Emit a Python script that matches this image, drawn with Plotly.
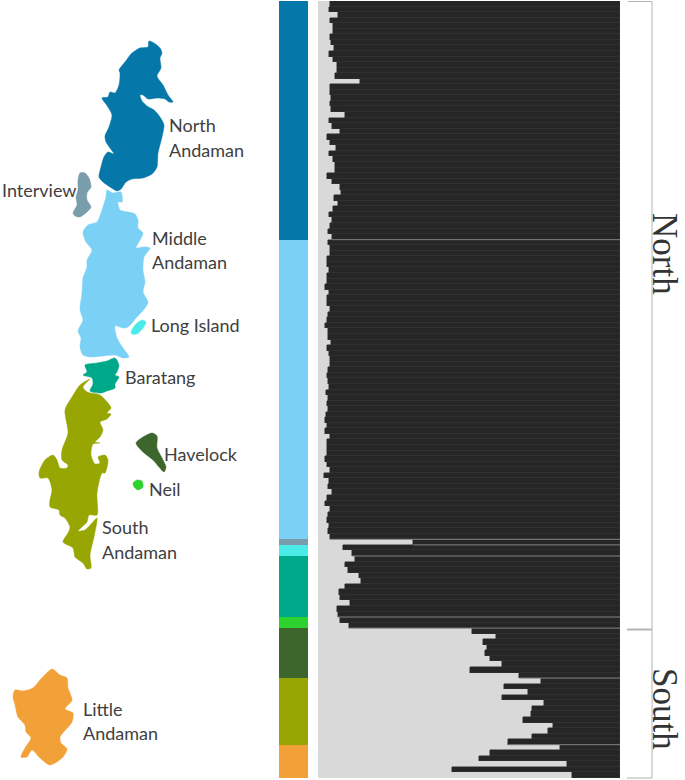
import plotly.graph_objects as go

# ---------- data ----------
group_names = ["North Andaman", "Middle Andaman", "Interview", "Long Island", "Baratang",
               "Neil", "Havelock", "South Andaman", "Little Andaman"]
group_sizes = [43, 54, 1, 2, 11, 2, 9, 12, 6]
group_colors = ["#0577a8", "#7bd0f5", "#7a9dac", "#4bebe8", "#00a88a",
                "#2dd22f", "#3c662b", "#97a603", "#f2a038"]

# share of the light cluster per individual, percent, top to bottom
north_andaman = [3.9, 3.6, 6.7, 4.0, 5.0, 4.8, 3.9, 4.3, 5.4, 3.5, 5.1, 6.4, 6.4, 5.5, 13.9,
                 3.9, 3.9, 4.4, 4.0, 4.2, 9.0, 3.6, 4.5, 7.2, 3.1, 3.9, 5.9, 3.5, 5.1, 5.5,
                 5.6, 2.9, 4.5, 7.2, 7.7, 5.4, 6.6, 4.9, 3.8, 4.5, 4.0, 3.2, 4.5]
middle_andaman = [3.4, 4.0, 4.0, 3.0, 3.1, 3.8, 3.1, 3.1, 2.2, 3.6, 2.9, 3.0, 3.9, 3.3, 3.0,
                  2.2, 3.3, 3.3, 4.2, 3.0, 3.8, 3.9, 3.9, 3.4, 3.0, 3.4, 3.6, 2.5, 3.3, 2.9,
                  3.3, 2.8, 2.4, 3.0, 2.4, 3.9, 3.1, 3.0, 3.0, 2.3, 2.9, 3.9, 2.0, 3.5, 3.3,
                  4.5, 3.1, 2.4, 4.1, 3.2, 3.1, 3.8, 3.3, 3.9]
interview = [31.5]
long_island = [8.2, 11.3]
baratang = [12.4, 9.0, 9.8, 13.6, 14.4, 9.1, 7.1, 7.2, 10.5, 6.4, 6.5]
neil = [7.4, 10.1]
havelock = [51.0, 58.8, 54.7, 56.0, 55.4, 57.0, 61.0, 50.4, 66.7]
south_andaman = [73.7, 61.5, 69.4, 60.9, 74.7, 70.7, 70.6, 67.8, 77.9, 76.2, 70.7, 63.0]
little_andaman = [80.1, 56.9, 53.3, 82.3, 44.4, 84.0]

# island outlines
outline_north = [(149,41),(154,43),(160,48),(162,53),(160,58),(161,68),(157,76),(163,85),(168,95),
                 (173,102),(169,102),(165,99),(157,98),(148,99),(143,95),(140,95),(142,101),(147,106),
                 (154,110),(160,117),(164,125),(162,137),(158,153),(157,167),(152,174),(143,178),
                 (132,179),(126,182),(121,189),(117,191),(110,187),(103,182),(99,177),(101,167),
                 (104,157),(108,152),(114,154),(110,148),(106,142),(105,136),(109,127),(112,115),
                 (108,107),(102,98),(108,97),(110,92),(115,93),(119,85),(120,73),(119,70),(125,62),
                 (132,53),(140,48),(148,47)]
outline_interview = [(80,173),(85,173),(89,178),(91,187),(87,193),(87,200),(91,207),(87,212),
                     (80,217),(75,216),(73,213),(77,205),(76,197),(78,190),(78,180)]
outline_middle = [(107,190),(113,193),(121,192),(122,202),(118,202),(120,210),(128,212),(135,214),
                  (138,220),(138,228),(143,233),(140,240),(136,248),(143,247),(150,248),(144,257),
                  (143,270),(145,282),(143,292),(148,302),(145,308),(137,317),(128,327),(123,328),
                  (115,326),(117,338),(123,348),(129,357),(123,358),(115,355),(103,356),(90,357),
                  (83,355),(80,347),(81,338),(78,331),(83,320),(80,310),(82,293),(83,278),(87,267),
                  (87,260),(92,250),(86,242),(83,232),(88,225),(97,222),(102,210),(106,197)]
outline_long = [(131,332),(135,325),(142,320),(146,322),(143,328),(137,334),(132,334)]
outline_baratang = [(85,365),(97,363),(107,361),(115,358),(119,365),(117,372),(115,375),(119,377),
                    (115,384),(115,388),(107,391),(101,393),(90,391),(93,384),(92,378),(83,375),(87,372)]
outline_south = [(90,379),(83,387),(87,392),(100,395),(108,403),(111,408),(107,413),(111,414),
                 (107,419),(100,422),(103,430),(100,437),(95,442),(100,443),(93,444),(91,455),
                 (95,464),(100,463),(98,457),(105,455),(108,460),(105,473),(102,473),(97,493),
                 (97,515),(89,515),(87,522),(78,531),(85,530),(92,523),(97,518),(94,537),(90,555),
                 (91,568),(87,569),(83,563),(75,557),(73,548),(63,542),(68,533),(70,527),(65,518),
                 (60,515),(59,510),(50,507),(50,500),(52,490),(48,478),(40,478),(39,472),(45,460),
                 (53,455),(57,460),(60,468),(67,468),(68,465),(62,460),(62,450),(68,433),(65,410),
                 (72,397),(80,385)]
outline_havelock = [(136,443),(143,437),(152,433),(157,436),(157,448),(162,458),(166,467),(164,472),
                    (159,467),(153,460),(143,452)]
outline_neil = [(133,483),(137,480),(142,481),(143,487),(138,490),(134,487)]
outline_little = [(52,669),(60,675),(67,678),(68,688),(72,700),(65,709),(73,713),(72,722),(60,737),
                  (61,743),(67,749),(63,757),(50,765),(40,758),(32,750),(27,757),(21,757),(25,748),
                  (31,738),(26,732),(25,725),(18,717),(15,705),(13,697),(15,690),(23,691),(33,688),(40,680)]

label_texts = ["North", "Andaman", "Interview", "Middle", "Andaman", "Long Island", "Baratang",
               "Havelock", "Neil", "South", "Andaman", "Little", "Andaman"]
label_x = [167, 167, 0, 150, 150, 149, 123, 162, 147, 100, 100, 81, 81]
label_y = [125, 150, 190, 238, 262, 325, 377, 454, 489, 527, 552, 709, 733]

# ---------- derived ----------
W, H = 685, 780
light_share = (north_andaman + middle_andaman + interview + long_island + baratang + neil
               + havelock + south_andaman + little_andaman)
dark_share = [100 - v for v in light_share]
rows = list(range(len(light_share)))

fig = go.Figure()

fig.add_trace(go.Bar(y=rows, x=light_share, orientation="h", xaxis="x", yaxis="y", width=1,
                     marker=dict(color="#d9d9d9", line=dict(color="#d9d9d9", width=0.5)),
                     showlegend=False, hoverinfo="skip"))
fig.add_trace(go.Bar(y=rows, x=dark_share, orientation="h", xaxis="x", yaxis="y", width=1,
                     marker=dict(color="#262626", line=dict(color="#343434", width=0.5)),
                     showlegend=False, hoverinfo="skip"))

# population strip
start = 0
for name, size, colour in zip(group_names, group_sizes, group_colors):
    fig.add_trace(go.Bar(y=[start + (size - 1) / 2], x=[1], width=[size], orientation="h",
                         xaxis="x2", yaxis="y", marker=dict(color=colour, line=dict(width=0)),
                         name=name, showlegend=False, hoverinfo="skip"))
    start += size

# map
outlines = [outline_north, outline_middle, outline_interview, outline_long, outline_baratang,
            outline_neil, outline_havelock, outline_south, outline_little]
for name, pts, colour in zip(group_names, outlines, group_colors):
    xs = [p[0] for p in pts] + [pts[0][0]]
    ys = [p[1] for p in pts] + [pts[0][1]]
    fig.add_trace(go.Scatter(x=xs, y=ys, xaxis="x3", yaxis="y3", mode="lines", fill="toself",
                             fillcolor=colour, line=dict(color=colour, width=0.5, shape="spline", smoothing=0.7),
                             name=name, showlegend=False, hoverinfo="skip"))

annotations = [dict(x=x, y=y, xref="x3", yref="y3", text=t, showarrow=False, xanchor="left",
                    yanchor="middle", font=dict(family="Lato", size=18, color="#404040"))
               for t, x, y in zip(label_texts, label_x, label_y)]
for text, y in (("North", 254), ("South", 709)):
    annotations.append(dict(x=665, y=y, xref="x3", yref="y3", text=text, showarrow=False, textangle=90,
                            xanchor="center", yanchor="middle",
                            font=dict(family="Liberation Serif", size=35, color="#333333")))

# brackets and separators
shapes = []
BR = "#b4b4b4"
for x0, y0, x1, y1, w in [(628, 1.5, 652, 1.5, 1), (652, 1.5, 652, 778, 1),
                          (627, 629.5, 652, 629.5, 2), (627, 778, 652, 778, 1)]:
    shapes.append(dict(type="line", xref="x3", yref="y3", x0=x0, y0=y0, x1=x1, y1=y1,
                       line=dict(color=BR, width=w)))
boundary = 0
for size in group_sizes[:-1]:
    boundary += size
    shapes.append(dict(type="line", xref="x", yref="y", x0=light_share[boundary - 1], x1=100,
                       y0=boundary - 0.5, y1=boundary - 0.5, line=dict(color="#808080", width=1)))

hidden = dict(visible=False, fixedrange=True)
fig.update_layout(
    width=W, height=H, margin=dict(l=0, r=0, t=0, b=0), paper_bgcolor="white", plot_bgcolor="rgba(0,0,0,0)",
    barmode="stack", bargap=0, showlegend=False,
    xaxis=dict(domain=[318 / W, 620 / W], range=[0, 100], **hidden),
    xaxis2=dict(domain=[279 / W, 308 / W], range=[0, 1], anchor="y", **hidden),
    yaxis=dict(domain=[1 - 778 / H, 1 - 1 / H], range=[len(rows) - 0.5, -0.5], **hidden),
    xaxis3=dict(domain=[0, 1], range=[0, W], anchor="y3", **hidden),
    yaxis3=dict(domain=[0, 1], range=[H, 0], anchor="x3", **hidden),
    annotations=annotations, shapes=shapes,
)

fig.write_html("out.html", config=dict(displayModeBar=False),
               post_script="document.body.style.margin='0';")
